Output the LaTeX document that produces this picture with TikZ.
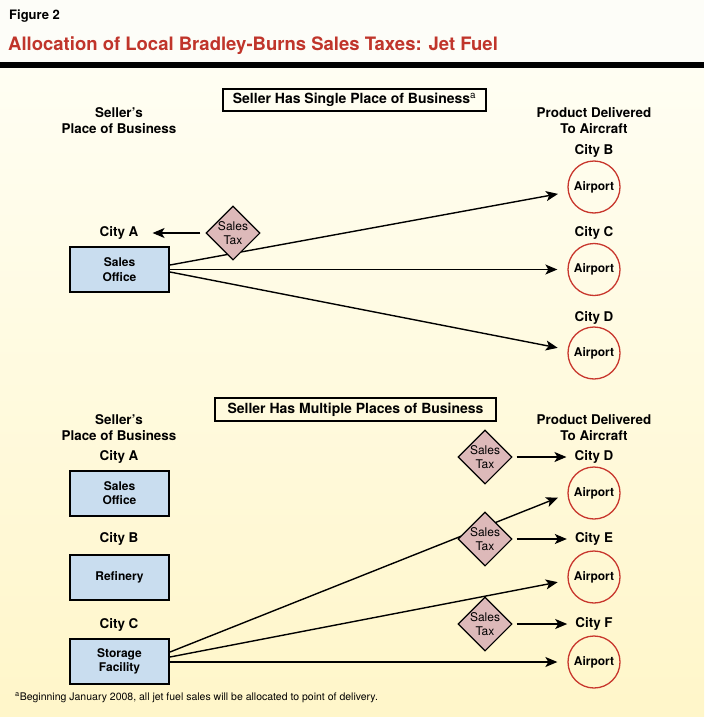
\documentclass[tikz,border=0pt]{standalone}
\usepackage{fontspec}
\setmainfont{TeX Gyre Heros}
\usetikzlibrary{shapes.geometric,arrows.meta}
\definecolor{titlered}{HTML}{C0352B}
\definecolor{airred}{HTML}{C8372D}
\definecolor{boxblue}{HTML}{C9DDEF}
\definecolor{taxpink}{HTML}{DDB9B9}
\definecolor{figtop}{HTML}{FDFDF8}
\definecolor{bgtop}{HTML}{FFFEF3}
\definecolor{bgbot}{HTML}{FFF6C9}
\tikzset{
  lbl/.style={font=\bfseries\fontsize{13.4}{16}\selectfont, align=center, inner sep=0pt},
  placebox/.style={draw, line width=2pt, fill=boxblue, minimum width=99pt, minimum height=45pt,
     font=\bfseries\fontsize{12}{14.5}\selectfont, align=center, inner sep=0pt},
  airport/.style={circle, draw=airred, line width=1.3pt, minimum size=52pt, inner sep=0pt,
     font=\bfseries\fontsize{12}{14}\selectfont},
  taxd/.style={diamond, draw, line width=1.1pt, fill=taxpink, minimum size=54pt, inner sep=0pt,
     font=\fontsize{12}{14.5}\selectfont, align=center},
  hdr/.style={draw, line width=2pt, inner sep=0pt, font=\bfseries\fontsize{14}{16}\selectfont},
  arr/.style={line width=1.4pt, -{Stealth[length=12pt,width=10pt,inset=3pt]}}
}
\begin{document}
\begin{tikzpicture}[x=1pt,y=-1pt]
\useasboundingbox (0,0) rectangle (704,717);
% background
\fill[figtop] (0,0) rectangle (704,62);
\shade[top color=bgtop, bottom color=bgbot] (0,68) rectangle (704,717);
\fill[black] (0,62) rectangle (704,68);
% titles
\node[anchor=base west, inner sep=0pt, font=\bfseries\fontsize{13}{15}\selectfont] (fig) at (9,20) {Figure 2};
\node[anchor=base west, inner sep=0pt, text=titlered, font=\bfseries\fontsize{18.5}{21}\selectfont] (title) at (8,51) {Allocation of Local Bradley-Burns Sales Taxes: Jet Fuel};

% ===== top section =====
\node[hdr, minimum width=263pt, minimum height=22pt] (h1) at (354.5,100) {Seller Has Single Place of Business\textsuperscript{\mdseries a}};
\node[lbl] (sp1) at (119,121) {Seller's\\Place of Business};
\node[lbl] (pd1) at (594,121) {Product Delivered\\To Aircraft};
\node[lbl] (cA1) at (119,233) {City A};
\node[placebox] (so1) at (119.5,269.5) {Sales\\Office};
\node[lbl] (cB1) at (594,151) {City B};
\node[airport] (apB) at (594,187) {Airport};
\node[lbl] (cC1) at (594,233) {City C};
\node[airport] (apC) at (594,269.5) {Airport};
\node[lbl] (cD1) at (594,318) {City D};
\node[airport] (apD) at (594,353) {Airport};

\draw[arr, shorten >=10pt] ([yshift=4.5pt]so1.east) -- (apB.191);
\draw[arr, shorten >=10pt] (so1.east) -- (apC.west);
\draw[arr, shorten >=10pt] ([yshift=-2.5pt]so1.east) -- (apD.173);

\node[taxd] (tA) at (233,233) {Sales\\Tax};
\draw[arr, shorten <=5pt, shorten >=14pt] (tA.west) -- (cA1.east);

% ===== bottom section =====
\node[hdr, minimum width=281pt, minimum height=23pt] (h2) at (355.5,409.5) {Seller Has Multiple Places of Business};
\node[lbl] (sp2) at (119,428) {Seller's\\Place of Business};
\node[lbl] (pd2) at (594,428) {Product Delivered\\To Aircraft};
\node[lbl] (cA2) at (119,457) {City A};
\node[placebox] (so2) at (119.5,493) {Sales\\Office};
\node[lbl] (cB2) at (119,539) {City B};
\node[placebox] (rf) at (119.5,577) {Refinery};
\node[lbl] (cC2) at (119,625) {City C};
\node[placebox] (sf) at (119.5,661.5) {Storage\\Facility};

\node[lbl] (cD2) at (594,457) {City D};
\node[airport] (apD2) at (594,493) {Airport};
\node[lbl] (cE) at (594,539) {City E};
\node[airport] (apE) at (594,577) {Airport};
\node[lbl] (cF) at (594,624) {City F};
\node[airport] (apF) at (594,662) {Airport};

\draw[arr, shorten >=10pt] ([yshift=9.5pt]sf.east) -- (apD2.182);
\draw[arr, shorten >=10pt] ([yshift=4.5pt]sf.east) -- (apE.187);
\draw[arr, shorten >=10pt] ([yshift=-0.5pt]sf.east) -- (apF.west);

\node[taxd] (t1) at (485,457) {Sales\\Tax};
\node[taxd] (t2) at (485,539) {Sales\\Tax};
\node[taxd] (t3) at (485,624) {Sales\\Tax};
\draw[arr, shorten <=4pt, shorten >=8pt] (t1.east) -- (cD2.west);
\draw[arr, shorten <=4pt, shorten >=8pt] (t2.east) -- (cE.west);
\draw[arr, shorten <=4pt, shorten >=8pt] (t3.east) -- (cF.west);

% footnote
\node[anchor=base west, inner sep=0pt, font=\fontsize{10.5}{12}\selectfont] (fn) at (15,700) {\textsuperscript{a}Beginning January 2008, all jet fuel sales will be allocated to point of delivery.};
\end{tikzpicture}
\end{document}
